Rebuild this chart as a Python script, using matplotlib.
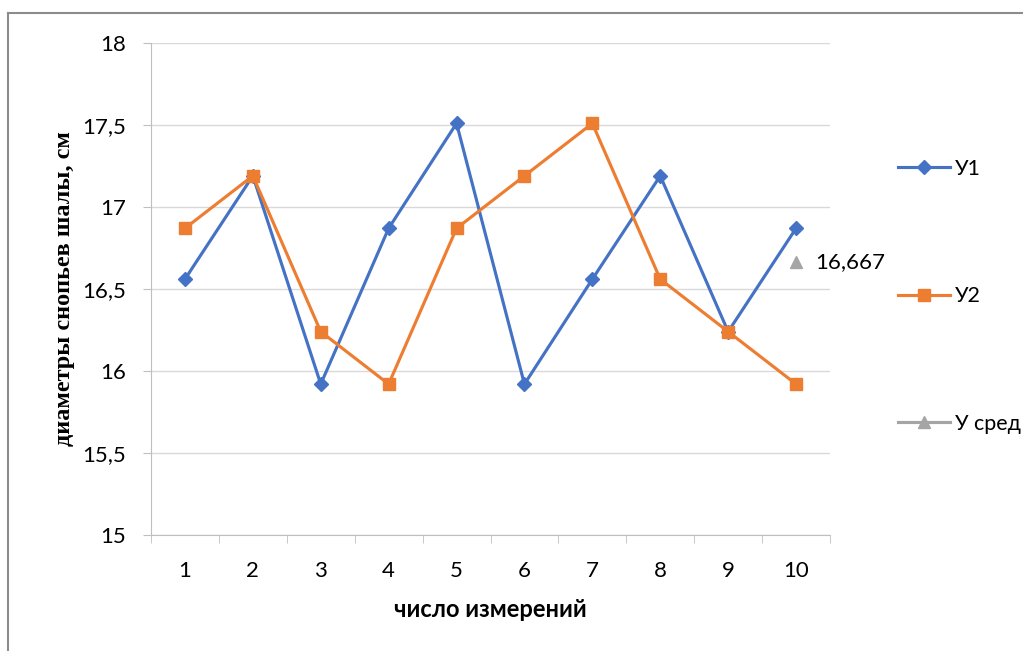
import matplotlib.pyplot as plt
from matplotlib.lines import Line2D
from matplotlib.ticker import FixedLocator, FuncFormatter

# measurements
n = [1, 2, 3, 4, 5, 6, 7, 8, 9, 10]
y1 = [16.56, 17.19, 15.92, 16.87, 17.51, 15.92, 16.56, 17.19, 16.24, 16.87]
y2 = [16.87, 17.19, 16.24, 15.92, 16.87, 17.19, 17.51, 16.56, 16.24, 15.92]
y_mean_x = [10]
y_mean = [16.667]

blue = "#4472c4"
orange = "#ed7d31"
gray = "#a5a5a5"
grid_c = "#d9d9d9"
axis_c = "#bfbfbf"
fs = 16

fig = plt.figure(figsize=(10.23, 6.51), dpi=100)
ax = fig.add_axes([151 / 1023, 1 - 535 / 651, 679 / 1023, 492 / 651])

ax.plot(n, y1, color=blue, lw=2.25, marker="D", ms=7, label="У1", zorder=3)
ax.plot(n, y2, color=orange, lw=2.25, marker="s", ms=8, label="У2", zorder=3)
ax.plot(y_mean_x, y_mean, color=gray, lw=2.25, marker="^", ms=8.5, label="У сред",
        linestyle="-", zorder=3)
ax.annotate(f"{y_mean[0]:.3f}".replace(".", ","), (y_mean_x[0], y_mean[0]),
            xytext=(14, 0), textcoords="offset points", va="center", ha="left",
            fontsize=fs, family="Lato")

ax.set_xlim(0.5, 10.5)
ax.set_ylim(15, 18)
ax.set_yticks([15, 15.5, 16, 16.5, 17, 17.5, 18])
ax.yaxis.set_major_formatter(FuncFormatter(lambda v, p: f"{v:g}".replace(".", ",")))
ax.set_xticks(n)
ax.xaxis.set_minor_locator(FixedLocator([i + 0.5 for i in range(0, 11)]))
ax.tick_params(axis="x", which="major", length=0, pad=19, labelsize=fs)
ax.tick_params(axis="x", which="minor", length=6, color=axis_c, direction="out")
ax.tick_params(axis="y", length=6, color=axis_c, pad=12, labelsize=fs)
for lbl in ax.get_xticklabels() + ax.get_yticklabels():
    lbl.set_family("Lato")

ax.grid(axis="y", color=grid_c, lw=1)
ax.set_axisbelow(True)
for s in ["top", "right"]:
    ax.spines[s].set_visible(False)
ax.spines["left"].set_color(axis_c)
ax.spines["bottom"].set_color(axis_c)

ax.set_xlabel("число измерений", family="Lato", fontweight="bold", fontsize=17, labelpad=12)
ax.set_ylabel("диаметры снопьев шалы, см", family="Liberation Serif", fontweight="bold",
              fontsize=17.5, labelpad=5)

leg = fig.legend(loc="upper left", bbox_to_anchor=(889 / 1023, 1 - 150 / 651),
                 frameon=False, prop={"family": "Lato", "size": 15.5},
                 labelspacing=5.0, handlelength=2.45, handletextpad=0.2,
                 borderaxespad=0)

# outer chart frame
fig.add_artist(Line2D([8 / 1023, 8 / 1023], [0, 1 - 13 / 651], color="#8c8c8c", lw=1.5,
                      transform=fig.transFigure))
fig.add_artist(Line2D([8 / 1023, 1022 / 1023], [1 - 13 / 651, 1 - 13 / 651], color="#8c8c8c",
                      lw=1.5, transform=fig.transFigure))

fig.savefig("out.png", dpi=100)
